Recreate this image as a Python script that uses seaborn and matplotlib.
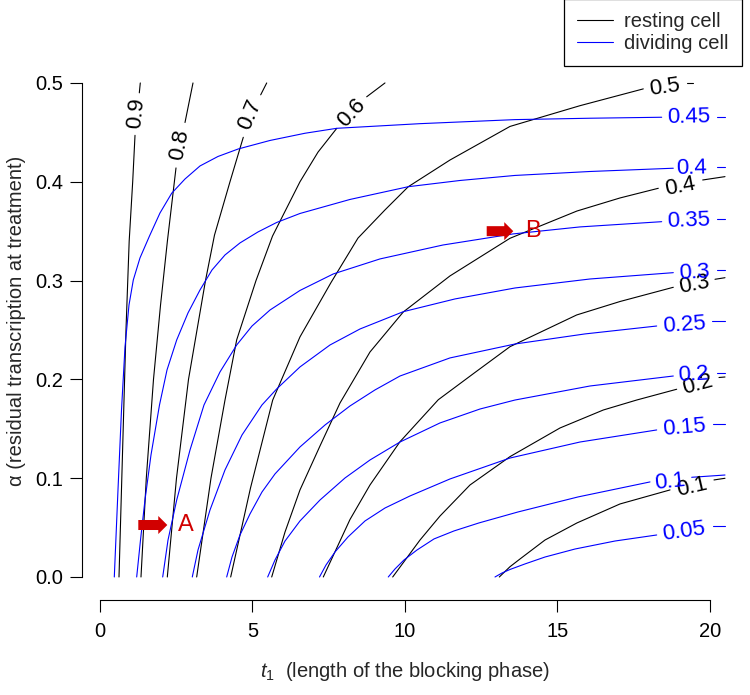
import numpy as np
import pandas as pd
import matplotlib
matplotlib.use("Agg")
import matplotlib.pyplot as plt
import seaborn as sns
from matplotlib.lines import Line2D

nan = np.nan

# contour levels
resting_levels = [0.9, 0.8, 0.7, 0.6, 0.5, 0.4, 0.3, 0.2, 0.1]
dividing_levels = [0.45, 0.4, 0.35, 0.3, 0.25, 0.2, 0.15, 0.1, 0.05]

# points (t1, alpha); nan = gap where the label sits
resting_t = {
    0.9: [0.623, 0.738, 0.852, 0.957, 1.072, 1.148, nan, 1.289, 1.321],
    0.8: [1.344, 1.518, 1.754, 1.984, 2.210, 2.492, nan, 2.787, 3.049],
    0.7: [2.207, 2.508, 2.902, 3.459, 3.754, 4.262, 4.698, nan, 5.269, 5.466],
    0.6: [3.170, 3.639, 4.098, 4.482, 5.115, 5.656, 6.557, 7.148, 7.761, nan, 8.744, 9.344],
    0.5: [4.285, 4.934, 5.662, 6.557, 7.574, 8.459, 9.344, 10.108, 11.475, 13.443, 15.738, 17.813,
          nan, 19.236, 19.452],
    0.4: [5.630, 6.066, 6.557, 7.213, 7.869, 8.852, 9.944, 11.475, 13.443, 15.639, 17.049, 18.305,
          nan, 19.761, 20.492],
    0.3: [7.321, 8.197, 8.852, 9.836, 11.092, 12.295, 13.443, 15.630, 17.049, 18.797, nan, 20.164, 20.492],
    0.2: [9.597, 10.492, 11.148, 12.131, 13.443, 15.082, 16.502, 17.597, 18.908, nan, 20.295, 20.492],
    0.1: [13.092, 13.443, 13.770, 14.590, 15.639, 17.049, 18.689, nan, 20.131, 20.492],
}
resting_a = {
    0.9: [0, 0.125, 0.25, 0.34, 0.40, 0.447, nan, 0.49, 0.50],
    0.8: [0, 0.10, 0.20, 0.275, 0.34, 0.414, nan, 0.46, 0.50],
    0.7: [0, 0.10, 0.20, 0.30, 0.346, 0.40, 0.445, nan, 0.488, 0.50],
    0.6: [0, 0.10, 0.179, 0.24, 0.30, 0.345, 0.40, 0.43, 0.454, nan, 0.486, 0.50],
    0.5: [0, 0.090, 0.179, 0.243, 0.298, 0.343, 0.3715, 0.395, 0.422, 0.456, 0.477, 0.494,
          nan, 0.50, 0.50],
    0.4: [0, 0.0455, 0.0881, 0.1326, 0.1761, 0.2277, 0.2682, 0.3047, 0.3428, 0.3704, 0.3836, 0.3934,
          nan, 0.4018, 0.4052],
    0.3: [0, 0.0582, 0.0931, 0.1369, 0.1794, 0.2070, 0.2331, 0.2652, 0.2788, 0.2932, nan, 0.3013, 0.3029],
    0.2: [0, 0.0374, 0.0617, 0.0931, 0.1218, 0.1508, 0.1690, 0.1791, 0.1900, nan, 0.2019, 0.2024],
    0.1: [0, 0.0104, 0.0182, 0.0374, 0.0547, 0.0739, 0.0881, nan, 0.0982, 0.0999],
}
dividing_t = {
    0.45: [0.469, 0.590, 0.705, 0.820, 0.951, 1.092, 1.311, 1.623, 1.967, 2.351, 2.787, 3.279, 3.869,
           4.534, 5.574, 6.721, 7.761, 10.492, 13.607, 16.066, 18.416, nan, 20.239, 20.492],
    0.4: [1.203, 1.328, 1.475, 1.672, 1.951, 2.197, 2.515, 2.885, 3.279, 3.672, 4.098, 4.590, 5.180,
          5.793, 6.557, 8.197, 10.108, 11.803, 13.607, 16.066, 18.797, nan, 20.230, 20.492],
    0.35: [2.056, 2.230, 2.515, 2.951, 3.410, 3.934, 4.482, 4.984, 5.574, 6.557, 7.649, 9.180, 11.246,
           13.541, 15.738, 18.416, nan, 20.230, 20.492],
    0.3: [3.026, 3.213, 3.607, 4.098, 4.656, 5.311, 5.793, 6.557, 7.541, 8.525, 9.944, 11.639, 13.607,
          16.066, 18.797, nan, 20.230, 20.492],
    0.25: [4.154, 4.328, 4.590, 4.918, 5.311, 5.738, 6.557, 7.377, 8.197, 9.016, 9.836, 11.475, 13.607,
           15.902, 18.252, nan, 20.056, 20.492],
    0.2: [5.498, 5.738, 6.066, 6.557, 7.213, 8.033, 8.852, 9.836, 11.148, 12.459, 13.607, 16.066, 18.797,
          nan, 20.230, 20.492],
    0.15: [7.197, 7.410, 7.705, 8.131, 8.689, 9.344, 10.164, 11.475, 13.443, 15.738, 18.252, nan,
           20.089, 20.492],
    0.1: [9.452, 9.672, 9.967, 10.393, 10.951, 11.607, 12.426, 13.705, 15.672, 18.033, nan, 19.400, 20.492],
    0.05: [12.951, 13.180, 13.443, 13.934, 14.590, 15.574, 16.885, 18.252, nan, 20.089, 20.492],
}
dividing_a = {
    0.45: [0, 0.0881, 0.1690, 0.2328, 0.2753, 0.3006, 0.3229, 0.3451, 0.3684, 0.3884, 0.4028, 0.4160,
           0.4256, 0.4332, 0.4418, 0.4491, 0.4541, 0.4588, 0.4629, 0.4643, 0.4653, nan, 0.4659, 0.4659],
    0.4: [0, 0.0374, 0.0779, 0.1235, 0.1741, 0.2095, 0.2399, 0.2672, 0.2905, 0.3107, 0.3259, 0.3381,
          0.3492, 0.3588, 0.3679, 0.3821, 0.3950, 0.4013, 0.4064, 0.4104, 0.4137, nan, 0.4147, 0.4147],
    0.35: [0, 0.0374, 0.0779, 0.1285, 0.1741, 0.2075, 0.2348, 0.2540, 0.2702, 0.2900, 0.3067, 0.3219,
           0.3360, 0.3472, 0.3543, 0.3596, nan, 0.3620, 0.3620],
    0.3: [0, 0.0273, 0.0678, 0.1083, 0.1437, 0.1741, 0.1903, 0.2126, 0.2348, 0.2510, 0.2685, 0.2814,
          0.2925, 0.3016, 0.3080, nan, 0.3107, 0.3107],
    0.25: [0, 0.0202, 0.0425, 0.0638, 0.0860, 0.1043, 0.1316, 0.1538, 0.1731, 0.1893, 0.2034, 0.2217,
           0.2358, 0.2460, 0.2540, nan, 0.2594, 0.2594],
    0.2: [0, 0.0172, 0.0364, 0.0567, 0.0779, 0.1002, 0.1184, 0.1366, 0.1559, 0.1700, 0.1791, 0.1933,
          0.2034, nan, 0.2068, 0.2068],
    0.15: [0, 0.0121, 0.0253, 0.0405, 0.0567, 0.0698, 0.0820, 0.0992, 0.1204, 0.1366, 0.1488, nan,
           0.1549, 0.1549],
    0.1: [0, 0.0081, 0.0172, 0.0273, 0.0385, 0.0466, 0.0547, 0.0658, 0.0810, 0.0962, nan, 0.1009, 0.1032],
    0.05: [0, 0.0040, 0.0076, 0.0132, 0.0202, 0.0283, 0.0364, 0.0425, nan, 0.0516, 0.0516],
}

x_ticks = [0, 5, 10, 15, 20]
y_ticks = [0.0, 0.1, 0.2, 0.3, 0.4, 0.5]
legend_labels = ["resting cell", "dividing cell"]

# where the inline labels go: (t1, alpha, rotation)
resting_label_pos = {
    0.9: (1.203, 0.4693, 84), 0.8: (2.623, 0.4372, 79), 0.7: (4.918, 0.4676, 67),
    0.6: (8.252, 0.4693, 47), 0.5: (18.525, 0.4956, 8), 0.4: (19.03, 0.3950, 11),
    0.3: (19.475, 0.2955, 11), 0.2: (19.60, 0.1943, 15), 0.1: (19.41, 0.0908, 13),
}
dividing_label_pos = {
    0.45: (19.31, 0.4653, 1), 0.4: (19.40, 0.4137, 1), 0.35: (19.29, 0.3606, 2),
    0.3: (19.50, 0.3080, 3), 0.25: (19.15, 0.2551, 4), 0.2: (19.45, 0.2045, 3),
    0.15: (19.15, 0.1515, 5), 0.1: (18.70, 0.0965, 6), 0.05: (19.15, 0.0459, 8),
}

RED = "#d10000"
BLUE = "#0000ff"


def contour_frame(t_lines, a_lines):
    rows = []
    for level in t_lines:
        piece = 0
        for t, a in zip(t_lines[level], a_lines[level]):
            if np.isnan(t):
                piece += 1
                continue
            rows.append({"level": level, "piece": f"{level}-{piece}", "t1": t, "alpha": a})
    return pd.DataFrame(rows)


sns.set_style("ticks")
plt.rcParams["font.family"] = ["Liberation Sans", "DejaVu Sans"]
plt.rcParams["mathtext.fontset"] = "custom"
plt.rcParams["mathtext.it"] = "Liberation Sans:italic"
plt.rcParams["mathtext.rm"] = "Liberation Sans"

fig = plt.figure(figsize=(7.5, 6.95), dpi=100)
ax = fig.add_axes([82 / 750, 1 - 600 / 695, (735 - 82) / 750, (600 - 63) / 695])

rest_df = contour_frame(resting_t, resting_a)
div_df = contour_frame(dividing_t, dividing_a)

sns.lineplot(data=rest_df, x="t1", y="alpha", units="piece", estimator=None, sort=False,
             color="black", linewidth=0.8, legend=False, ax=ax)
sns.lineplot(data=div_df, x="t1", y="alpha", units="piece", estimator=None, sort=False,
             color=BLUE, linewidth=0.8, legend=False, ax=ax)

for lev in resting_levels:
    x, y, rot = resting_label_pos[lev]
    ax.text(x, y, f"{lev:g}", color="black", fontsize=16, rotation=rot,
            rotation_mode="anchor", ha="center", va="center")
for lev in dividing_levels:
    x, y, rot = dividing_label_pos[lev]
    ax.text(x, y, f"{lev:g}", color=BLUE, fontsize=16, rotation=rot,
            rotation_mode="anchor", ha="center", va="center")

# red markers A and B
arrow_style = "simple,head_length=0.65,head_width=1.3,tail_width=0.72"
ax.annotate("", xy=(2.207, 0.0526), xytext=(1.256, 0.0526),
            arrowprops=dict(arrowstyle=arrow_style, color=RED, shrinkA=0, shrinkB=0,
                            mutation_scale=10, lw=0))
ax.text(2.81, 0.0531, "A", color=RED, fontsize=17, ha="center", va="center")
ax.annotate("", xy=(13.551, 0.350), xytext=(12.679, 0.350),
            arrowprops=dict(arrowstyle=arrow_style, color=RED, shrinkA=0, shrinkB=0,
                            mutation_scale=10, lw=0))
ax.text(14.197, 0.3497, "B", color=RED, fontsize=17, ha="center", va="center")

ax.set_xlim(-0.590, 20.82)
ax.set_ylim(-0.0233, 0.5202)
ax.set_xticks(x_ticks)
ax.set_xticklabels([str(v) for v in x_ticks])
ax.set_yticks(y_ticks)
ax.set_yticklabels([f"{v:.1f}" for v in y_ticks])
ax.tick_params(axis="both", direction="out", length=8.5, width=0.8, colors="black", labelsize=14.5)
ax.tick_params(axis="x", pad=7)
ax.tick_params(axis="y", pad=5)

for side in ["top", "right"]:
    ax.spines[side].set_visible(False)
ax.spines["left"].set_bounds(0, 0.5)
ax.spines["bottom"].set_bounds(0, 20)
for side in ["left", "bottom"]:
    ax.spines[side].set_linewidth(0.8)
    ax.spines[side].set_color("black")

ax.set_xlabel(r"$t_{\mathit{1}}$  (length of the blocking phase)", fontsize=14.5)
ax.set_ylabel("α (residual transcription at treatment)", fontsize=14.5)
ax.xaxis.set_label_coords(0.4946, -0.134)
ax.xaxis.label.set_verticalalignment("center")
ax.yaxis.set_label_coords(-0.101, 0.52)
ax.yaxis.label.set_verticalalignment("center")

handles = [Line2D([], [], color="black", lw=0.8), Line2D([], [], color=BLUE, lw=0.8)]
leg = ax.legend(handles, legend_labels, loc="upper right",
                bbox_to_anchor=(742 / 750, 1 + 1 / 695), bbox_transform=fig.transFigure,
                frameon=True, fancybox=False, framealpha=1, edgecolor="black",
                fontsize=14.5, handlelength=1.8, handletextpad=0.55, borderpad=0.65,
                labelspacing=0.15, borderaxespad=0)
leg.get_frame().set_linewidth(0.9)

fig.savefig("out.png", dpi=100)
